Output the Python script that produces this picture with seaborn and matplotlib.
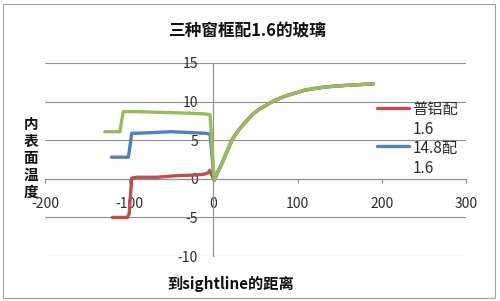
import matplotlib
matplotlib.use("Agg")
import matplotlib.pyplot as plt
from matplotlib.patches import Rectangle
import numpy as np
import pandas as pd
import seaborn as sns

# Frame profiles: distance to sightline (mm) vs inner surface temperature (°C)
red_x = [-120, -102, -100, -97, -90, -67, -44, -20, -11, -6, -4.4, -2, 1]
red_y = [-5.0, -5.0, -4.5, 0.1, 0.2, 0.2, 0.4, 0.5, 0.6, 0.8, 1.1, 0.5, -0.2]

blue_x = [-121, -101, -100, -97, -90, -70, -50, -30, -10, -4, 1]
blue_y = [2.8, 2.8, 3.5, 5.9, 5.9, 6.0, 6.1, 6.0, 5.9, 5.8, -0.2]

green_x = [-129, -111, -109, -107, -90, -60, -30, -10, -4, 1]
green_y = [6.1, 6.1, 7.5, 8.7, 8.7, 8.6, 8.5, 8.4, 8.3, -0.2]

# Glass region (1.6 glazing), shared by all three frames
glass_x = [1, 4, 8, 11, 14, 18, 22, 26, 30, 36, 42, 47, 53, 62, 72, 85,
           97, 109, 121, 133, 145, 157, 173, 190]
glass_y = [-0.2, 0.6, 1.5, 2.2, 3.0, 4.0, 5.0, 5.7, 6.3, 7.1, 7.8, 8.4, 8.9, 9.5,
           10.1, 10.7, 11.1, 11.5, 11.7, 11.9, 12.0, 12.1, 12.2, 12.3]

series_names = ["普铝配\n1.6", "14.8配\n1.6", "断桥铝配\n1.6"]
series_colors = ["#BC504D", "#4F81BD", "#9BBB59"]

x_ticks = [-200, -100, 0, 100, 200, 300]
y_ticks = [-10, -5, 0, 5, 10, 15]

sns.set_theme(style="white")
plt.rcParams["font.family"] = ["Noto Sans CJK SC", "DejaVu Sans"]
plt.rcParams["axes.unicode_minus"] = False

fig = plt.figure(figsize=(5.0, 3.01), dpi=100)
ax = fig.add_axes([45 / 500, 45 / 301, 421 / 500, 193 / 301])

frames = [(red_x, red_y), (blue_x, blue_y), (green_x, green_y)]
for (fx, fy), name, color in zip(frames, series_names, series_colors):
    df = pd.DataFrame({"dist": list(fx) + list(glass_x),
                       "temp": list(fy) + list(glass_y)})
    sns.lineplot(data=df, x="dist", y="temp", sort=False, color=color,
                 linewidth=2.4, label=name, ax=ax, zorder=3)

ax.set_xlim(-200, 300)
ax.set_ylim(-10, 15)
ax.set_xticks(x_ticks)
ax.set_yticks(y_ticks)
ax.set_xlabel("")
ax.set_ylabel("")

grid_color = "#8E8E8E"
ax.yaxis.grid(True, color=grid_color, linewidth=0.8)
ax.xaxis.grid(False)
ax.set_axisbelow(True)

for side in ("top", "right"):
    ax.spines[side].set_visible(False)
ax.spines["left"].set_position(("data", 0))
ax.spines["bottom"].set_position(("data", 0))
for side in ("left", "bottom"):
    ax.spines[side].set_color(grid_color)
    ax.spines[side].set_linewidth(0.8)
    ax.spines[side].set_zorder(1)

ax.tick_params(axis="x", direction="out", length=3, width=0.8, color=grid_color,
               pad=10, labelsize=10, labelcolor="#2b2b2b", bottom=True)
ax.tick_params(axis="y", length=0, pad=11, labelsize=10, labelcolor="#2b2b2b", left=True)

# Legend: only the first two frames fit in the legend area
handles, labels = ax.get_legend_handles_labels()
leg = ax.legend(handles[:2], labels[:2], loc="upper left",
                bbox_to_anchor=(377 / 500, 1 - 101 / 301), bbox_transform=fig.transFigure,
                frameon=False, fontsize=11, handlelength=2.1, handletextpad=0.2,
                labelspacing=0.1, borderpad=0, borderaxespad=0)
for txt in leg.get_texts():
    txt.set_color("#2b2b2b")
    txt.set_linespacing(1.25)
for line in leg.get_lines():
    line.set_linewidth(2.4)
    line.set_ydata(np.asarray(line.get_ydata()) + 9.5)

fig.text(248 / 500, 1 - 32 / 301, "三种窗框配1.6的玻璃", ha="center", va="center",
         fontsize=12, fontweight="bold", color="#111111")
fig.text(231 / 500, 1 - 284 / 301, "到sightline的距离", ha="center", va="center",
         fontsize=11, fontweight="bold", color="#111111")
fig.text(31 / 500, 1 - 158 / 301, "内\n表\n面\n温\n度", ha="center", va="center",
         fontsize=10.5, fontweight="bold", color="#111111", linespacing=1.08)

fig.add_artist(Rectangle((3 / 500, 3 / 301), 492 / 500, 294 / 301, transform=fig.transFigure,
                         fill=False, edgecolor="#A0A0A0", linewidth=0.8))

fig.savefig("out.png", dpi=100)
